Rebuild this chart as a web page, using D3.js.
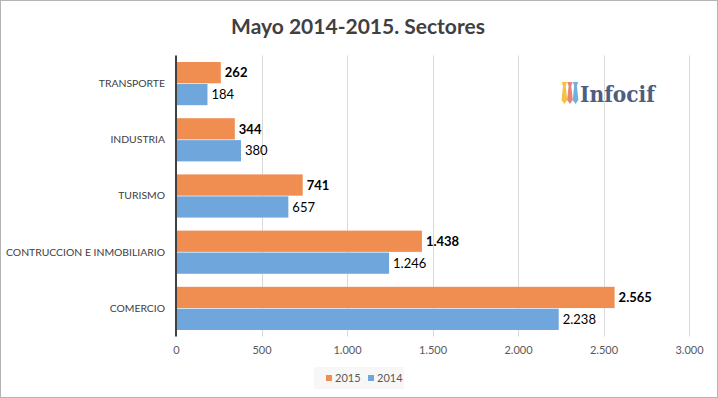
<!DOCTYPE html>
<html>
<head>
<meta charset="utf-8">
<script src="https://cdn.jsdelivr.net/npm/d3@7"></script>
<style>
  body { margin: 0; background: #fff; }
  svg { display: block; font-family: Lato, "Open Sans", sans-serif; }
</style>
</head>
<body>
<svg id="chart"></svg>
<script>
// data
var categories = ["TRANSPORTE", "INDUSTRIA", "TURISMO", "CONTRUCCION E INMOBILIARIO", "COMERCIO"];
var seriesNames = ["2015", "2014"];
var values2015 = [262, 344, 741, 1438, 2565];
var values2014 = [184, 380, 657, 1246, 2238];
var xTicks = [0, 500, 1000, 1500, 2000, 2500, 3000];
var colors = {"2015": "#f08d51", "2014": "#6fa6dc"};

var svgWidth = 718, svgHeight = 398;
var margin = {top: 55.5, right: 29, bottom: 61.5, left: 176};
var width = svgWidth - margin.left - margin.right;
var height = svgHeight - margin.top - margin.bottom;

var fmt = d3.formatLocale({decimal: ",", thousands: ".", grouping: [3], currency: ["", "€"]}).format(",");

var svg = d3.select("#chart")
    .attr("width", svgWidth)
    .attr("height", svgHeight);

// outer border
svg.append("rect")
    .attr("x", 0.5).attr("y", 0.5)
    .attr("width", svgWidth - 1).attr("height", svgHeight - 1)
    .attr("fill", "#fff")
    .attr("stroke", "#b4b4b4");

svg.append("text")
    .attr("x", 358)
    .attr("y", 34)
    .attr("text-anchor", "middle")
    .attr("font-size", 21)
    .attr("font-weight", "bold")
    .attr("fill", "#404040")
    .text("Mayo 2014-2015. Sectores");

var g = svg.append("g")
    .attr("transform", "translate(" + margin.left + "," + margin.top + ")");

var x = d3.scaleLinear().domain([0, 3000]).range([0, width]);
var y = d3.scaleBand().domain(categories).range([0, height]).paddingInner(0.232).paddingOuter(0.116);
var ySub = d3.scaleBand().domain(seriesNames).range([0, y.bandwidth()]).paddingInner(0.03);

// grid
g.append("g")
    .selectAll("line")
    .data(xTicks.slice(1))
    .enter().append("line")
    .attr("x1", function(d) { return Math.round(x(d)) + 0.5; })
    .attr("x2", function(d) { return Math.round(x(d)) + 0.5; })
    .attr("y1", 0)
    .attr("y2", height)
    .attr("stroke", "#d9d9d9");

// x axis labels
var xAxis = g.append("g")
    .attr("transform", "translate(0," + height + ")")
    .call(d3.axisBottom(x).tickValues(xTicks).tickFormat(fmt).tickSize(0).tickPadding(10));
xAxis.select(".domain").remove();
xAxis.selectAll("text")
    .attr("font-family", "Lato, sans-serif")
    .attr("font-size", 11)
    .attr("fill", "#595959");

// logo
var logo = svg.append("g").attr("transform", "translate(562,82)");
var tieColors = ["#f4c145", "#e8857a", "#6fb2df"];
tieColors.forEach(function(c, i) {
    var tx = i * 5.6;
    logo.append("path")
        .attr("d", "M" + (tx - 0.3) + ",0 L" + (tx + 5) + ",0 L" + (tx + 3.7) + ",4 L" + (tx + 5.2) + ",18 L" + (tx + 2.35) + ",22 L" + (tx - 0.5) + ",18 L" + (tx + 1) + ",4 Z")
        .attr("fill", c);
});
logo.append("text")
    .attr("x", 18)
    .attr("y", 20)
    .attr("font-family", "'DejaVu Serif', serif")
    .attr("font-weight", "bold")
    .attr("font-size", 23)
    .attr("textLength", 75)
    .attr("lengthAdjust", "spacingAndGlyphs")
    .attr("fill", "#4f5d7e")
    .text("Infocif");

// bars
var rows = categories.map(function(c, i) {
    return {cat: c, vals: [{s: "2015", v: values2015[i]}, {s: "2014", v: values2014[i]}]};
});

var groups = g.selectAll(".cat")
    .data(rows)
    .enter().append("g")
    .attr("class", "cat")
    .attr("transform", function(d) { return "translate(0," + y(d.cat) + ")"; });

groups.selectAll("rect")
    .data(function(d) { return d.vals; })
    .enter().append("rect")
    .attr("x", 0)
    .attr("y", function(d) { return ySub(d.s); })
    .attr("width", function(d) { return x(d.v); })
    .attr("height", ySub.bandwidth())
    .attr("fill", function(d) { return colors[d.s]; });

groups.selectAll(".val")
    .data(function(d) { return d.vals; })
    .enter().append("text")
    .attr("class", "val")
    .attr("x", function(d) { return x(d.v) + 4; })
    .attr("y", function(d) { return ySub(d.s) + ySub.bandwidth() / 2; })
    .attr("dy", "0.36em")
    .attr("font-size", 13)
    .attr("font-weight", function(d) { return d.s === "2015" ? "bold" : "normal"; })
    .attr("fill", "#000")
    .text(function(d) { return fmt(d.v); });

// y axis
var yAxis = g.append("g")
    .call(d3.axisLeft(y).tickSize(0).tickPadding(11));
yAxis.select(".domain")
    .attr("stroke", "#404040")
    .attr("stroke-width", 2)
    .attr("d", "M0,0V" + height);
yAxis.selectAll("text")
    .attr("font-family", "Lato, sans-serif")
    .attr("font-size", 10.4)
    .attr("fill", "#404040");

// legend
var legend = svg.append("g").attr("transform", "translate(314,367)");
legend.append("rect")
    .attr("width", 90).attr("height", 22)
    .attr("fill", "#f7f7f7");
seriesNames.forEach(function(s, i) {
    var lx = 12 + i * 42;
    legend.append("rect")
        .attr("x", lx).attr("y", 8)
        .attr("width", 6).attr("height", 6)
        .attr("fill", colors[s]);
    legend.append("text")
        .attr("x", lx + 9).attr("y", 15)
        .attr("font-size", 11)
        .attr("fill", "#595959")
        .text(s);
});
</script>
</body>
</html>
